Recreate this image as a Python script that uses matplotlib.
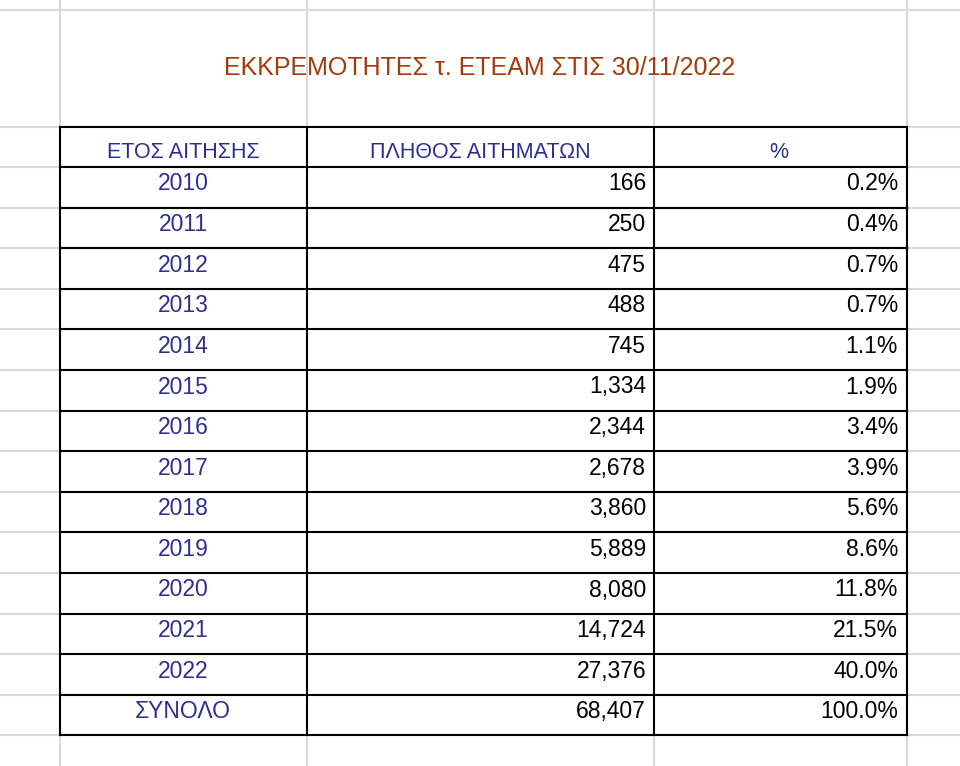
import matplotlib
matplotlib.use("Agg")
import matplotlib.pyplot as plt

plt.rcParams["font.family"] = ["Liberation Sans", "DejaVu Sans"]

title = "ΕΚΚΡΕΜΟΤΗΤΕΣ τ. ΕΤΕΑΜ ΣΤΙΣ 30/11/2022"
headers = ["ΕΤΟΣ ΑΙΤΗΣΗΣ", "ΠΛΗΘΟΣ ΑΙΤΗΜΑΤΩΝ", "%"]
years = ["2010", "2011", "2012", "2013", "2014", "2015", "2016", "2017",
         "2018", "2019", "2020", "2021", "2022", "ΣΥΝΟΛΟ"]
counts = [166, 250, 475, 488, 745, 1334, 2344, 2678, 3860, 5889, 8080,
          14724, 27376, 68407]
pcts = [0.2, 0.4, 0.7, 0.7, 1.1, 1.9, 3.4, 3.9, 5.6, 8.6, 11.8, 21.5, 40.0, 100.0]

W, H = 960, 766
cols = [60, 307, 654, 907]
rows = [127, 167] + [167 + 40.6 * (i + 1) for i in range(len(years))]

fig = plt.figure(figsize=(W / 100, H / 100), dpi=100)
ax = fig.add_axes([0, 0, 1, 1])
ax.set_xlim(0, W)
ax.set_ylim(H, 0)
ax.axis("off")

grid = "#d9d9d9"
# spreadsheet grid
for x in cols:
    ax.plot([x, x], [0, H], color=grid, lw=1.5, zorder=1)
for y in [10] + rows:
    ax.plot([0, W], [y, y], color=grid, lw=1.5, zorder=1)

# black table borders
for y in rows:
    ax.plot([cols[0], cols[-1]], [y, y], color="black", lw=1.5, zorder=2)
for x in cols:
    ax.plot([x, x], [rows[0], rows[-1]], color="black", lw=1.5, zorder=2)

fs = 16.5
blue = "#2e2e8f"
ax.text(480, 68, title, ha="center", va="center", fontsize=18, color="#a33b0e",
        zorder=3)
ax.text(183, 153, headers[0], ha="center", va="center", fontsize=15.5, color=blue)
ax.text(480, 153, headers[1], ha="center", va="center", fontsize=15.5, color=blue)
ax.text(779, 153, headers[2], ha="center", va="center", fontsize=15.5, color=blue)

for i, (yr, c, p) in enumerate(zip(years, counts, pcts)):
    y = rows[i + 1] + 17
    ax.text(183, y, yr, ha="center", va="center", fontsize=fs, color=blue)
    ax.text(646, y, f"{c:,}", ha="right", va="center", fontsize=fs, color="black")
    ax.text(898, y, f"{p:.1f}%", ha="right", va="center", fontsize=fs, color="black")

fig.savefig("out.png", dpi=100, facecolor="white")
